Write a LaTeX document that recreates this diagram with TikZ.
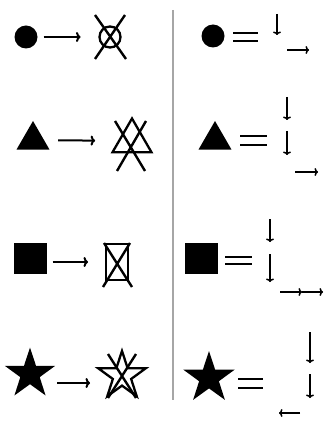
\documentclass[tikz,border=0pt]{standalone}
\usetikzlibrary{arrows.meta, shapes.geometric}

\begin{document}
\begin{tikzpicture}[
    x=1pt, y=-1pt,
    >={To[length=4.5pt, width=10pt]},
    filled/.style={fill=black, draw=none, inner sep=0pt, outer sep=0pt},
    hollow/.style={draw=black, line width=2.3pt, inner sep=0pt, outer sep=0pt},
    xline/.style={line width=2.4pt},
    mapsto/.style={->, line width=2pt},
    tinyarrow/.style={-{To[length=3.5pt, width=8pt]}, line width=1.5pt},
    equals/.style={line width=2.2pt},
    triangle/.style={regular polygon, regular polygon sides=3},
    fivestar/.style={star, star points=5, star point ratio=2.6}
]
\useasboundingbox (0,0) rectangle (325,422);

% -------------------------
% DIVIDER
% -------------------------
\draw[gray!70, line width=2pt] (173,10) -- (173,400);

% -------------------------
% LEFT COLUMN
% -------------------------
\node[filled, circle, minimum size=23pt] (DotL) at (26,37) {};
\node[hollow, circle, minimum size=21pt] (DotX) at (110,37) {};
\draw[xline] (95,15) -- (126,59) (125,15) -- (95,59);
\draw[mapsto, shorten <=6pt, shorten >=19pt] (DotL) -- (DotX);

\node[filled, triangle, minimum size=38pt] (TriL) at (33,140) {};
\node[hollow, triangle, minimum size=45pt] (TriX) at (132,141) {};
\draw[xline] (115,121) -- (145,171) (146,121) -- (117,171);
\draw[mapsto, shorten <=14pt, shorten >=24pt] (TriL) -- (TriX);

\node[filled, rectangle, minimum width=33pt, minimum height=31pt] (BoxL) at (30,258) {};
\node[hollow, rectangle, minimum width=22pt, minimum height=36pt] (BoxX) at (117,262) {};
\draw[xline] (104,243) -- (132,287) (130,243) -- (103,287);
\draw[mapsto] ([xshift=6pt, yshift=-4pt]BoxL.east) -- ([xshift=-18pt]BoxX.west);

\node[filled, fivestar, minimum size=53pt] (StarL) at (30,374) {};
\node[hollow, fivestar, minimum size=50pt] (StarX) at (122,376) {};
\draw[xline] (108,354) -- (136,398) (136,354) -- (108,398);
\draw[mapsto] ([xshift=27pt, yshift=-9pt]StarL.center) -- ([xshift=-32pt, yshift=-7pt]StarX.center);

% -------------------------
% RIGHT COLUMN
% -------------------------
\node[filled, circle, minimum size=23pt] (DotR) at (213,36) {};
\draw[equals] (233,33) -- (258,33) (233,41) -- (258,41);
\draw[tinyarrow] (277,14) -- (277,35);
\draw[tinyarrow] (287,50) -- (309,50);

\node[filled, triangle, minimum size=38pt] (TriR) at (215,140) {};
\draw[equals] (240,136) -- (267,136) (240,145) -- (267,145);
\draw[tinyarrow] (287,97) -- (287,120);
\draw[tinyarrow] (287,131) -- (287,155);
\draw[tinyarrow] (295,172) -- (318,172);

\node[filled, rectangle, minimum width=33pt, minimum height=31pt] (BoxR) at (201,258) {};
\draw[equals] (225,257) -- (252,257) (225,264) -- (252,264);
\draw[tinyarrow] (270,219) -- (270,242);
\draw[tinyarrow] (270,254) -- (270,282);
\draw[tinyarrow] (280,292) -- (302,292);
\draw[tinyarrow] (302,292) -- (323,292);

\node[filled, fivestar, minimum size=54pt] (StarR) at (209,378) {};
\draw[equals] (238,379) -- (263,379) (238,388) -- (263,388);
\draw[tinyarrow] (310,332) -- (310,363);
\draw[tinyarrow] (310,374) -- (310,398);
\draw[tinyarrow] (300,413) -- (279,413);

\end{tikzpicture}
\end{document}
